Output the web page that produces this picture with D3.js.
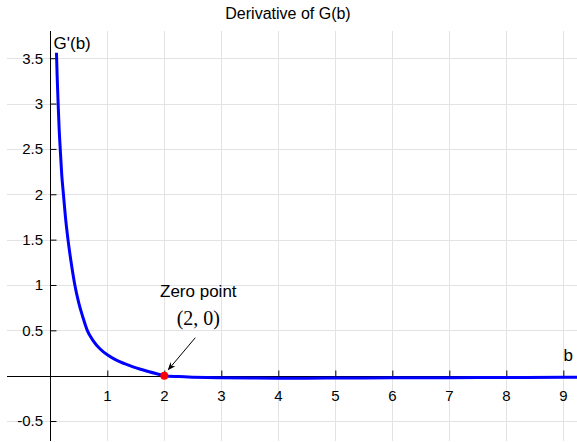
<!DOCTYPE html>
<html>
<head>
<meta charset="utf-8">
<script src="https://cdn.jsdelivr.net/npm/d3@7"></script>
<style>
  html, body { margin: 0; padding: 0; background: #fff; }
  svg { display: block; font-family: "Liberation Sans", Arial, sans-serif; }
</style>
</head>
<body>
<svg id="chart" width="577" height="442"></svg>
<script>
// G'(b) sampled along b
const bValues = [0.108, 0.12, 0.137, 0.155, 0.174, 0.2, 0.23, 0.265, 0.31, 0.365, 0.43, 0.5, 0.57, 0.648, 0.75, 0.87, 1.0, 1.15, 1.3, 1.45, 1.6, 1.75, 1.9, 2.0, 2.25, 2.5, 2.75, 3.0, 3.5, 4.0, 4.5, 5.0, 6.0, 7.0, 8.0, 9.0, 9.25];
const gPrime  = [3.56, 3.30, 3.0, 2.72, 2.5, 2.22, 2.0, 1.75, 1.5, 1.25, 1.0, 0.80, 0.647, 0.5, 0.387, 0.297, 0.23, 0.174, 0.133, 0.098, 0.068, 0.04, 0.016, 0.0, -0.01, -0.016, -0.02, -0.022, -0.025, -0.027, -0.027, -0.026, -0.024, -0.022, -0.02, -0.018, -0.018];

const xTicks = [1, 2, 3, 4, 5, 6, 7, 8, 9];
const yTicks = [-0.5, 0.5, 1, 1.5, 2, 2.5, 3, 3.5];

const zeroPoint = { b: 2, g: 0 };
const titleText = "Derivative of G(b)";
const yLabelText = "G'(b)";
const xLabelText = "b";
const noteText = "Zero point";
const coordText = "(2, 0)";

const svg = d3.select("#chart");
const x = d3.scaleLinear().domain([-0.76, 9.24]).range([7, 577]);
const y = d3.scaleLinear().domain([-0.72, 3.8]).range([441, 31]);

const defs = svg.append("defs");
defs.append("marker")
  .attr("id", "arrowhead")
  .attr("viewBox", "0 0 10 10")
  .attr("refX", 9).attr("refY", 5)
  .attr("markerWidth", 8).attr("markerHeight", 8)
  .attr("markerUnits", "userSpaceOnUse")
  .attr("orient", "auto")
  .append("path")
  .attr("d", "M0,1 L10,5 L0,9 L3,5 Z")
  .attr("fill", "#000");

// grid
const grid = svg.append("g").attr("stroke", "#e3e3e3").attr("stroke-width", 1);
grid.selectAll("line.v").data(xTicks).enter().append("line")
  .attr("x1", d => Math.round(x(d)) + 0.5).attr("x2", d => Math.round(x(d)) + 0.5)
  .attr("y1", y.range()[1]).attr("y2", y.range()[0]);
grid.selectAll("line.h").data(yTicks).enter().append("line")
  .attr("x1", x.range()[0]).attr("x2", x.range()[1])
  .attr("y1", d => Math.round(y(d)) + 0.5).attr("y2", d => Math.round(y(d)) + 0.5);

// axes through the origin, ticks pointing inward
const x0 = Math.round(x(0)) + 0.5;
const y0 = Math.round(y(0)) + 0.5;

const xAxis = d3.axisTop(x).tickValues(xTicks).tickSize(6).tickFormat("");
svg.append("g").attr("transform", `translate(0,${y0})`).call(xAxis)
  .call(g => g.select(".domain").remove())
  .call(g => g.selectAll(".tick line").attr("stroke", "#000"));
svg.append("line").attr("x1", x.range()[0]).attr("x2", x.range()[1])
  .attr("y1", y0).attr("y2", y0).attr("stroke", "#000");

const yAxis = d3.axisRight(y).tickValues(yTicks).tickSize(6).tickFormat("");
svg.append("g").attr("transform", `translate(${x0},0)`).call(yAxis)
  .call(g => g.select(".domain").remove())
  .call(g => g.selectAll(".tick line").attr("stroke", "#000"));
svg.append("line").attr("x1", x0).attr("x2", x0)
  .attr("y1", y.range()[1]).attr("y2", y.range()[0]).attr("stroke", "#000");

// tick labels
svg.append("g").selectAll("text").data(xTicks).enter().append("text")
  .attr("x", d => x(d)).attr("y", y0 + 24)
  .attr("text-anchor", "middle").attr("font-size", 15).attr("fill", "#000")
  .text(d => d);
svg.append("g").selectAll("text").data(yTicks).enter().append("text")
  .attr("x", x0 - 7.5).attr("y", d => y(d)).attr("dy", "0.36em")
  .attr("text-anchor", "end").attr("font-size", 15).attr("fill", "#000")
  .text(d => d);

// curve
const pts = bValues.map((b, i) => [b, gPrime[i]]);
svg.append("path").datum(pts)
  .attr("fill", "none").attr("stroke", "#0000ff").attr("stroke-width", 3)
  .attr("stroke-linejoin", "round")
  .attr("d", d3.line().x(d => x(d[0])).y(d => y(d[1])).curve(d3.curveMonotoneX));

// zero point
svg.append("circle")
  .attr("cx", x(zeroPoint.b)).attr("cy", y(zeroPoint.g)).attr("r", 4)
  .attr("fill", "#ff0000");

// annotation
svg.append("line")
  .attr("x1", x(zeroPoint.b) + 31).attr("y1", y(zeroPoint.g) - 38)
  .attr("x2", x(zeroPoint.b) + 4).attr("y2", y(zeroPoint.g) - 6)
  .attr("stroke", "#000").attr("stroke-width", 1)
  .attr("marker-end", "url(#arrowhead)");
svg.append("text")
  .attr("x", x(zeroPoint.b) + 34).attr("y", y(zeroPoint.g) - 79)
  .attr("text-anchor", "middle").attr("font-size", 17).attr("fill", "#000")
  .text(noteText);
svg.append("text")
  .attr("x", x(zeroPoint.b) + 34).attr("y", y(zeroPoint.g) - 51)
  .attr("text-anchor", "middle").attr("font-size", 20)
  .attr("font-family", "'Liberation Serif', 'DejaVu Serif', serif").attr("fill", "#000")
  .text(coordText);

// labels
svg.append("text").attr("x", 288).attr("y", 19)
  .attr("text-anchor", "middle").attr("font-size", 16).attr("fill", "#000")
  .text(titleText);
svg.append("text").attr("x", x0 + 3).attr("y", 49)
  .attr("font-size", 17).attr("fill", "#000")
  .text(yLabelText);
svg.append("text").attr("x", x(9) + 5).attr("y", y0 - 16)
  .attr("text-anchor", "middle").attr("font-size", 17).attr("fill", "#000")
  .text(xLabelText);
</script>
</body>
</html>
